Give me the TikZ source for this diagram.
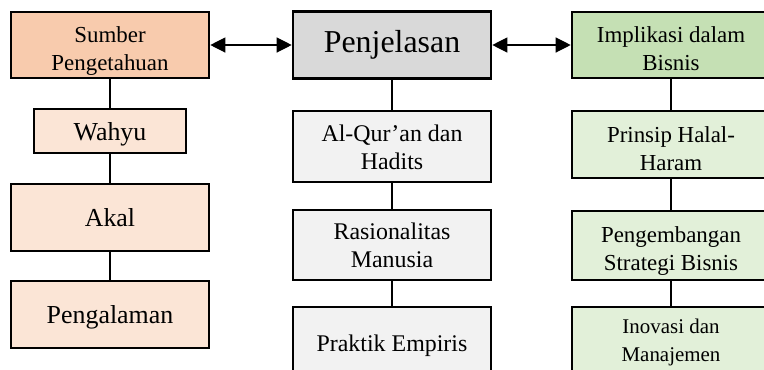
\documentclass[tikz,border=0pt]{standalone}
\usepackage{fontspec}
\setmainfont{Liberation Serif}
\usepackage{tikz}
\usetikzlibrary{arrows.meta}

\definecolor{peachhead}{HTML}{F8CBAD}
\definecolor{peachsub}{HTML}{FBE5D6}
\definecolor{greyhead}{HTML}{D9D9D9}
\definecolor{greysub}{HTML}{F2F2F2}
\definecolor{greenhead}{HTML}{C5E0B4}
\definecolor{greensub}{HTML}{E2F0D9}

% text set a little below the middle of its box
\newcommand{\lowered}[2]{\raisebox{-#1}[\height][\depth]{\begin{tabular}{@{}c@{}}#2\end{tabular}}}

\tikzset{
  box/.style={rectangle,draw=black,line width=2.6pt,inner sep=0pt,
    align=center,text=black,minimum width=198bp},
  txt/.style={font=\fontsize{#1}{28}\selectfont},
}

\begin{document}
\begin{tikzpicture}[x=1bp,y=-1bp]
\useasboundingbox (0,0) rectangle (764,369);
\clip (0,0) rectangle (764,369);

		\begin{scope}[every node/.style={box}]
			% sumber pengetahuan
			\node[fill=peachhead,minimum height=66bp,txt=23] (src) at (110,45) {\lowered{6bp}{Sumber\\Pengetahuan}};
			\node[fill=peachsub,minimum width=152bp,minimum height=44bp,txt=26] (wahyu) at (110,131) {\lowered{4bp}{Wahyu}};
			\node[fill=peachsub,minimum height=67bp,txt=26] (akal) at (110,217.5) {Akal};
			\node[fill=peachsub,minimum height=67bp,txt=26] (exp) at (110,314.5) {\lowered{3bp}{Pengalaman}};
			% penjelasan
			\node[fill=greyhead,minimum height=67bp,txt=32] (penj) at (392,45) {Penjelasan};
			\node[fill=greysub,minimum height=71bp,txt=24] (quran) at (392,146.5) {\lowered{3bp}{Al-Qur’an dan\\Hadits}};
			\node[fill=greysub,minimum height=70bp,txt=24] (rasio) at (392,245) {\lowered{3bp}{Rasionalitas\\Manusia}};
			\node[fill=greysub,minimum height=70bp,txt=24] (emp) at (392,342) {\lowered{4bp}{Praktik Empiris}};
			% implikasi
			\node[fill=greenhead,minimum height=66bp,txt=23] (impl) at (671,45) {\lowered{6bp}{Implikasi dalam\\Bisnis}};
			\node[fill=greensub,minimum height=67bp,txt=23] (halal) at (671,144.5) {\lowered{6bp}{Prinsip Halal-\\Haram}};
			\node[fill=greensub,minimum height=69bp,txt=23] (strat) at (671,245.5) {\lowered{5bp}{Pengembangan\\Strategi Bisnis}};
			\node[fill=greensub,minimum height=70bp,txt=21] (inov) at (671,342) {\lowered{0bp}{Inovasi dan\\Manajemen}};
		\end{scope}

	\begin{scope}[>={Triangle[length=15bp,width=15bp]},
              every edge/.style={draw=black,line width=1.2pt}]

  \path (src) edge[<->] (penj);
	\path (penj) edge[<->] (impl);
	\path (src) edge (wahyu);
	\path (wahyu) edge (akal);
	\path (akal) edge (exp);
	\path (penj) edge (quran);
	\path (quran) edge (rasio);
	\path (rasio) edge (emp);
	\path (impl) edge (halal);
	\path (halal) edge (strat);
	\path (strat) edge (inov);

\end{scope}
\end{tikzpicture}
\end{document}
